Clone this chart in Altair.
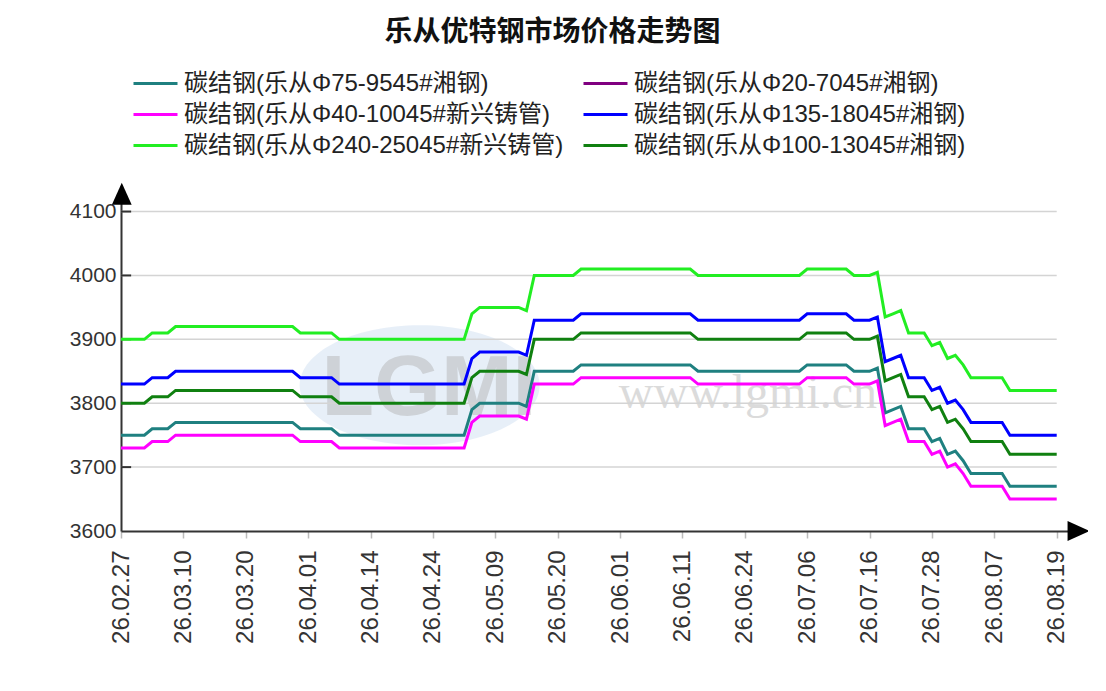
import altair as alt
import pandas as pd

# ---------------- data ----------------
tick_labels = ["26.02.27", "26.03.10", "26.03.20", "26.04.01", "26.04.14", "26.04.24",
               "26.05.09", "26.05.20", "26.06.01", "26.06.11", "26.06.24", "26.07.06",
               "26.07.16", "26.07.28", "26.08.07", "26.08.19"]
tick_index = [0, 8, 16, 24, 32, 40, 48, 56, 64, 72, 80, 88, 96, 104, 112, 120]

series_names = [
    "碳结钢(乐从Φ75-9545#湘钢)",
    "碳结钢(乐从Φ20-7045#湘钢)",
    "碳结钢(乐从Φ40-10045#新兴铸管)",
    "碳结钢(乐从Φ135-18045#湘钢)",
    "碳结钢(乐从Φ240-25045#新兴铸管)",
    "碳结钢(乐从Φ100-13045#湘钢)",
]
series_colors = ["#1f8080", "#800080", "#ff00ff", "#0000ff", "#22ee22", "#108010"]

teal_75_95 = [
    3750, 3750, 3750, 3750, 3760, 3760, 3760, 3770, 3770, 3770,
    3770, 3770, 3770, 3770, 3770, 3770, 3770, 3770, 3770, 3770,
    3770, 3770, 3770, 3760, 3760, 3760, 3760, 3760, 3750, 3750,
    3750, 3750, 3750, 3750, 3750, 3750, 3750, 3750, 3750, 3750,
    3750, 3750, 3750, 3750, 3750, 3790, 3800, 3800, 3800, 3800,
    3800, 3800, 3795, 3850, 3850, 3850, 3850, 3850, 3850, 3860,
    3860, 3860, 3860, 3860, 3860, 3860, 3860, 3860, 3860, 3860,
    3860, 3860, 3860, 3860, 3850, 3850, 3850, 3850, 3850, 3850,
    3850, 3850, 3850, 3850, 3850, 3850, 3850, 3850, 3860, 3860,
    3860, 3860, 3860, 3860, 3850, 3850, 3850, 3855, 3785, 3790,
    3795, 3760, 3760, 3760, 3740, 3745, 3720, 3725, 3710, 3690,
    3690, 3690, 3690, 3690, 3670, 3670, 3670, 3670, 3670, 3670,
    3670]

purple_20_70 = []  # no visible data in the reference

magenta_40_100 = [
    3730, 3730, 3730, 3730, 3740, 3740, 3740, 3750, 3750, 3750,
    3750, 3750, 3750, 3750, 3750, 3750, 3750, 3750, 3750, 3750,
    3750, 3750, 3750, 3740, 3740, 3740, 3740, 3740, 3730, 3730,
    3730, 3730, 3730, 3730, 3730, 3730, 3730, 3730, 3730, 3730,
    3730, 3730, 3730, 3730, 3730, 3770, 3780, 3780, 3780, 3780,
    3780, 3780, 3775, 3830, 3830, 3830, 3830, 3830, 3830, 3840,
    3840, 3840, 3840, 3840, 3840, 3840, 3840, 3840, 3840, 3840,
    3840, 3840, 3840, 3840, 3830, 3830, 3830, 3830, 3830, 3830,
    3830, 3830, 3830, 3830, 3830, 3830, 3830, 3830, 3840, 3840,
    3840, 3840, 3840, 3840, 3830, 3830, 3830, 3835, 3765, 3770,
    3775, 3740, 3740, 3740, 3720, 3725, 3700, 3705, 3690, 3670,
    3670, 3670, 3670, 3670, 3650, 3650, 3650, 3650, 3650, 3650,
    3650]

blue_135_180 = [
    3830, 3830, 3830, 3830, 3840, 3840, 3840, 3850, 3850, 3850,
    3850, 3850, 3850, 3850, 3850, 3850, 3850, 3850, 3850, 3850,
    3850, 3850, 3850, 3840, 3840, 3840, 3840, 3840, 3830, 3830,
    3830, 3830, 3830, 3830, 3830, 3830, 3830, 3830, 3830, 3830,
    3830, 3830, 3830, 3830, 3830, 3870, 3880, 3880, 3880, 3880,
    3880, 3880, 3875, 3930, 3930, 3930, 3930, 3930, 3930, 3940,
    3940, 3940, 3940, 3940, 3940, 3940, 3940, 3940, 3940, 3940,
    3940, 3940, 3940, 3940, 3930, 3930, 3930, 3930, 3930, 3930,
    3930, 3930, 3930, 3930, 3930, 3930, 3930, 3930, 3940, 3940,
    3940, 3940, 3940, 3940, 3930, 3930, 3930, 3935, 3865, 3870,
    3875, 3840, 3840, 3840, 3820, 3825, 3800, 3805, 3790, 3770,
    3770, 3770, 3770, 3770, 3750, 3750, 3750, 3750, 3750, 3750,
    3750]

lime_240_250 = [
    3900, 3900, 3900, 3900, 3910, 3910, 3910, 3920, 3920, 3920,
    3920, 3920, 3920, 3920, 3920, 3920, 3920, 3920, 3920, 3920,
    3920, 3920, 3920, 3910, 3910, 3910, 3910, 3910, 3900, 3900,
    3900, 3900, 3900, 3900, 3900, 3900, 3900, 3900, 3900, 3900,
    3900, 3900, 3900, 3900, 3900, 3940, 3950, 3950, 3950, 3950,
    3950, 3950, 3945, 4000, 4000, 4000, 4000, 4000, 4000, 4010,
    4010, 4010, 4010, 4010, 4010, 4010, 4010, 4010, 4010, 4010,
    4010, 4010, 4010, 4010, 4000, 4000, 4000, 4000, 4000, 4000,
    4000, 4000, 4000, 4000, 4000, 4000, 4000, 4000, 4010, 4010,
    4010, 4010, 4010, 4010, 4000, 4000, 4000, 4005, 3935, 3940,
    3945, 3910, 3910, 3910, 3890, 3895, 3870, 3875, 3860, 3840,
    3840, 3840, 3840, 3840, 3820, 3820, 3820, 3820, 3820, 3820,
    3820]

dkgreen_100_130 = [
    3800, 3800, 3800, 3800, 3810, 3810, 3810, 3820, 3820, 3820,
    3820, 3820, 3820, 3820, 3820, 3820, 3820, 3820, 3820, 3820,
    3820, 3820, 3820, 3810, 3810, 3810, 3810, 3810, 3800, 3800,
    3800, 3800, 3800, 3800, 3800, 3800, 3800, 3800, 3800, 3800,
    3800, 3800, 3800, 3800, 3800, 3840, 3850, 3850, 3850, 3850,
    3850, 3850, 3845, 3900, 3900, 3900, 3900, 3900, 3900, 3910,
    3910, 3910, 3910, 3910, 3910, 3910, 3910, 3910, 3910, 3910,
    3910, 3910, 3910, 3910, 3900, 3900, 3900, 3900, 3900, 3900,
    3900, 3900, 3900, 3900, 3900, 3900, 3900, 3900, 3910, 3910,
    3910, 3910, 3910, 3910, 3900, 3900, 3900, 3905, 3835, 3840,
    3845, 3810, 3810, 3810, 3790, 3795, 3770, 3775, 3760, 3740,
    3740, 3740, 3740, 3740, 3720, 3720, 3720, 3720, 3720, 3720,
    3720]

y_ticks = [3600, 3700, 3800, 3900, 4000, 4100]
grid_values = [3700, 3800, 3900, 4000, 4100]

all_series = [teal_75_95, purple_20_70, magenta_40_100, blue_135_180, lime_240_250, dkgreen_100_130]

rows = []
for name, vals in zip(series_names, all_series):
    for i, v in enumerate(vals):
        rows.append({"x": i, "y": v, "series": name})
df = pd.DataFrame(rows)

LATIN = "Liberation Sans, Noto Sans CJK SC"
CJK = "Noto Sans CJK SC"

x_scale = alt.Scale(domain=[0, 123.5], nice=False, zero=False)
y_scale = alt.Scale(domain=[3600, 4140], nice=False, zero=False)

label_expr = "[" + ",".join("'%s'" % s for s in tick_labels) + "][datum.value / 8]"

x_axis = alt.Axis(values=tick_index, labelExpr=label_expr, labelAngle=270,
                  labelFont="Liberation Sans", labelFontSize=24, labelColor="#333333",
                  labelPadding=12, tickSize=7, tickColor="#bbbbbb", tickWidth=1.5,
                  domainColor="#333333", domainWidth=2, grid=False, title=None,
                  labelOverlap=False, labelFlush=False)
y_axis = alt.Axis(values=y_ticks, format="d", labelFont="Liberation Sans", labelFontSize=21,
                  labelColor="#333333", labelPadding=5, ticks=False,
                  domainColor="#333333", domainWidth=2, grid=False, title=None,
                  labelOverlap=False, labelFlush=False)


def X(field="x:Q"):
    return alt.X(field, scale=x_scale, axis=x_axis, title=None)


def Y(field="y:Q"):
    return alt.Y(field, scale=y_scale, axis=y_axis, title=None)


# watermark
wm_ellipse = alt.Chart(pd.DataFrame({"x": [38.3], "y": [3828]})).mark_point(
    shape="M-1,0A1,0.5,0,1,0,1,0A1,0.5,0,1,0,-1,0Z", size=57600, filled=True,
    color="#c9dcef", opacity=0.45, strokeWidth=0
).encode(x=X(), y=Y())

wm_logo = alt.Chart(pd.DataFrame({"x": [39.5], "y": [3822], "t": ["LGMI"]})).mark_text(
    font="Liberation Sans", fontSize=86, fontWeight="bold", color="#b0b0b0", opacity=0.45,
    baseline="middle", align="center"
).encode(x=X(), y=Y(), text="t:N")

wm_url = alt.Chart(pd.DataFrame({"x": [80.4], "y": [3814], "t": ["www.lgmi.cn"]})).mark_text(
    font="Liberation Serif", fontSize=48, color="#b8b8b8", opacity=0.5,
    baseline="middle", align="center"
).encode(x=X(), y=Y(), text="t:N")

grid = alt.Chart(pd.DataFrame({"y": grid_values, "x": [0] * 5, "x2": [120] * 5})).mark_rule(
    color="#d4d4d4", strokeWidth=1.5
).encode(x=X(), x2="x2:Q", y=Y())

yticks = alt.Chart(pd.DataFrame({"y": grid_values, "x": [0] * 5, "x2": [1.3] * 5})).mark_rule(
    color="#333333", strokeWidth=2
).encode(x=X(), x2="x2:Q", y=Y())


def line_group(idx, legend_x):
    names = [series_names[k] for k in idx]
    cols = [series_colors[k] for k in idx]
    sub = df[df["series"].isin(names)]
    return alt.Chart(sub).mark_line(strokeWidth=3).encode(
        x=X(),
        y=Y(),
        color=alt.Color("series:N", sort=names,
                        scale=alt.Scale(domain=names, range=cols),
                        legend=alt.Legend(orient="none", legendX=legend_x, legendY=-115,
                                          direction="vertical",
                                          title=None, symbolType="M-2,0H2", symbolSize=484,
                                          symbolStrokeWidth=3, labelFont=LATIN, labelFontSize=24,
                                          labelColor="#222222", labelLimit=0,
                                          rowPadding=6, labelOffset=16)),
        order=alt.Order("x:Q"),
    )


lines_left = line_group([0, 2, 4], 22)
lines_right = line_group([1, 3, 5], 472)

arrows = alt.Chart(pd.DataFrame({
    "x": [0.1, 122.8], "y": [4128, 3600],
    "shape": ["M0,-1L-0.9,1L0.9,1Z", "M1,0L-1,-0.9L-1,0.9Z"],
})).mark_point(filled=True, color="#000000", opacity=1, size=484, strokeWidth=0).encode(
    x=X(), y=Y(),
    shape=alt.Shape("shape:N", scale=None, legend=None),
)

chart = alt.layer(wm_ellipse, wm_logo, wm_url, grid, yticks, lines_left, lines_right, arrows).resolve_scale(
    color="independent"
).properties(
    width=963, height=345,
    background="#ffffff",
    title=alt.TitleParams("乐从优特钢市场价格走势图", font=CJK, fontSize=28, fontWeight="bold",
                          color="#111111", anchor="middle", dx=-50, dy=-20),
    autosize=alt.AutoSizeParams(type="none"),
    padding={"left": 113, "top": 178, "right": 4, "bottom": 140},
).configure_view(strokeWidth=0, stroke="transparent")

chart.save("out.html", embed_options={"renderer": "svg", "actions": False})
